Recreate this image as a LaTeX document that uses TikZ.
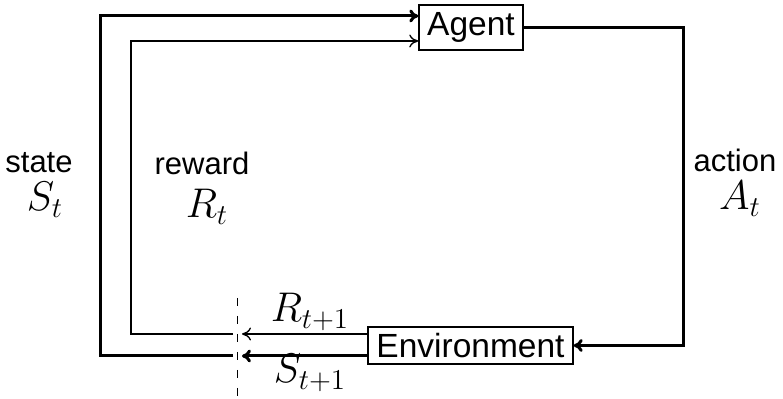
\documentclass[tikz,border=0pt]{standalone}
\usepackage[no-math]{fontspec}
\setmainfont{Liberation Sans}
\usetikzlibrary{arrows.meta}
\tikzset{
  boxnode/.style={draw,line width=0.75pt,inner sep=0pt,font=\fontsize{16.75}{20}\selectfont},
  wordlabel/.style={anchor=base,inner sep=0pt,font=\fontsize{15.5}{18}\selectfont},
  mathlabel/.style={anchor=base,inner sep=0pt,font=\fontsize{19.5}{22}\selectfont},
  bigmath/.style={anchor=base,inner sep=0pt,font=\fontsize{20.5}{24}\selectfont},
  thickline/.style={line width=1.5pt},
  thinline/.style={line width=0.65pt},
  tip/.style={-{To[length=4.5pt,width=6.5pt]}},
  cutline/.style={line width=0.5pt,dash pattern=on 4pt off 5pt}
}
\begin{document}
\begin{tikzpicture}[x=0.5pt,y=-0.5pt]
\useasboundingbox (0,0) rectangle (783,399);
% boxes
\node[boxnode,minimum width=52pt,minimum height=22.5pt] (agent) at (471,27.5) {Agent};
\node[boxnode,minimum width=102.5pt,minimum height=18.5pt] (env) at (470.5,345.5) {Environment};
% helper coordinates
\coordinate (cr) at (683,0);
\coordinate (stip) at (242,356);
\coordinate (rtip) at (242,334);
\coordinate (sgap) at (233,356);
\coordinate (rgap) at (233,334);
\coordinate (stop) at (100,16);
\coordinate (rtop) at (131,41);
\coordinate (dtop) at (237,298);
\coordinate (dbot) at (237,399);
% action loop
\draw[thickline,tip] (agent.east) -- (agent.east -| cr) |- (env.east);
% outputs of environment
\draw[thickline,tip] (env.west |- stip) -- (stip);
\draw[thinline,tip] (env.west |- rtip) -- (rtip);
% state and reward back to agent
\draw[thickline,tip] (sgap) -| (stop) -- (agent.west |- stop);
\draw[thinline,tip] (rgap) -| (rtop) -- (agent.west |- rtop);
% time cut
\draw[cutline] (dtop) -- (dbot);
% labels
\node[wordlabel] (lstate) at (39,173) {state};
\node[mathlabel] (lst) at (45,211) {$S_t$};
\node[wordlabel] (lreward) at (202,175) {reward};
\node[mathlabel] (lrt) at (207,218) {$R_t$};
\node[wordlabel] (laction) at (735,172) {action};
\node[mathlabel] (lat) at (740,210) {$A_t$};
\node[bigmath] (lrt1) at (310,322) {$R_{t+1}$};
\node[bigmath] (lst1) at (310,383) {$S_{t+1}$};
\end{tikzpicture}
\end{document}
